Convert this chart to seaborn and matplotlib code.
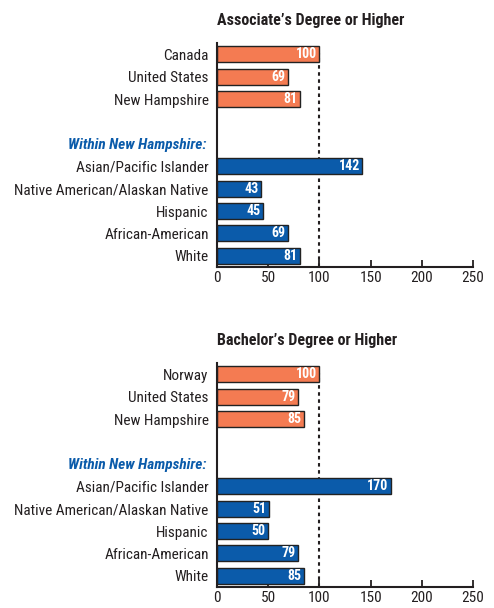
import matplotlib
matplotlib.use("Agg")
import matplotlib.pyplot as plt
import seaborn as sns
import pandas as pd

sns.set_theme(style="white")
plt.rcParams['font.family'] = ['Roboto Condensed', 'Liberation Sans Narrow', 'Liberation Sans', 'DejaVu Sans']

groups = ["Country", "Country", "Country", "NH", "NH", "NH", "NH", "NH"]
assoc_labels = ["Canada", "United States", "New Hampshire",
                "Asian/Pacific Islander", "Native American/Alaskan Native",
                "Hispanic", "African-American", "White"]
assoc_values = [100, 69, 81, 142, 43, 45, 69, 81]
bach_labels = ["Norway", "United States", "New Hampshire",
               "Asian/Pacific Islander", "Native American/Alaskan Native",
               "Hispanic", "African-American", "White"]
bach_values = [100, 79, 85, 170, 51, 50, 79, 85]
titles = ["Associate\u2019s Degree or Higher", "Bachelor\u2019s Degree or Higher"]
subhead = "Within New Hampshire:"
xticks = [0, 50, 100, 150, 200, 250]

ORANGE = "#F47B52"
BLUE = "#0B5BAA"
TXT = "#231F20"

fig = plt.figure(figsize=(4.94, 6.08), dpi=100)
W, H = 494, 608
def box(l, t, r, b):
    return [l / W, 1 - b / H, (r - l) / W, (b - t) / H]

axes = [fig.add_axes(box(217, 43, 473, 267)), fig.add_axes(box(217, 363, 473, 587))]

for ax, labels, values, title in zip(axes, [assoc_labels, bach_labels],
                                     [assoc_values, bach_values], titles):
    df = pd.DataFrame({"label": labels, "value": values, "group": groups})
    order = labels[:3] + [" ", subhead] + labels[3:]
    sns.barplot(data=df, x="value", y="label", hue="group", order=order,
                palette={"Country": ORANGE, "NH": BLUE}, dodge=False,
                saturation=1, width=0.72, edgecolor="#222222", linewidth=1.0,
                legend=False, ax=ax)
    for cont in ax.containers:
        for bar in cont:
            w = bar.get_width()
            if w != w or w == 0:
                continue
            ax.text(w - 2.5, bar.get_y() + bar.get_height() / 2, f"{int(round(w))}",
                    ha="right", va="center", color="white", fontsize=10,
                    fontweight="bold")
    ax.axvline(100, color=TXT, linestyle=(0, (1.7, 1.7)), linewidth=1.5,
               ymin=0, ymax=0.955, zorder=0)
    ax.set_xlim(0, 250)
    ax.set_ylim(9.5, -0.5)
    ax.set_xticks(xticks)
    ax.set_xticklabels([str(t) for t in xticks])
    ax.set_xlabel("")
    ax.set_ylabel("")
    ax.tick_params(axis="x", direction="in", length=5, width=1.3, color=TXT,
                   labelsize=11, labelcolor=TXT, pad=3, bottom=True)
    ax.tick_params(axis="y", length=0, labelsize=11, labelcolor=TXT, pad=6)
    for s in ["top", "right"]:
        ax.spines[s].set_visible(False)
    for s in ["left", "bottom"]:
        ax.spines[s].set_color(TXT)
        ax.spines[s].set_linewidth(1.5)
    for tl in ax.get_yticklabels():
        if tl.get_text() == subhead:
            tl.set_color(BLUE)
            tl.set_fontstyle("italic")
            tl.set_fontweight("bold")
            tl.set_x(-0.01)
    ax.set_title(title, loc="left", fontsize=11.5, fontweight="bold", color=TXT, pad=13)

fig.savefig("out.png", dpi=100, facecolor="white")
